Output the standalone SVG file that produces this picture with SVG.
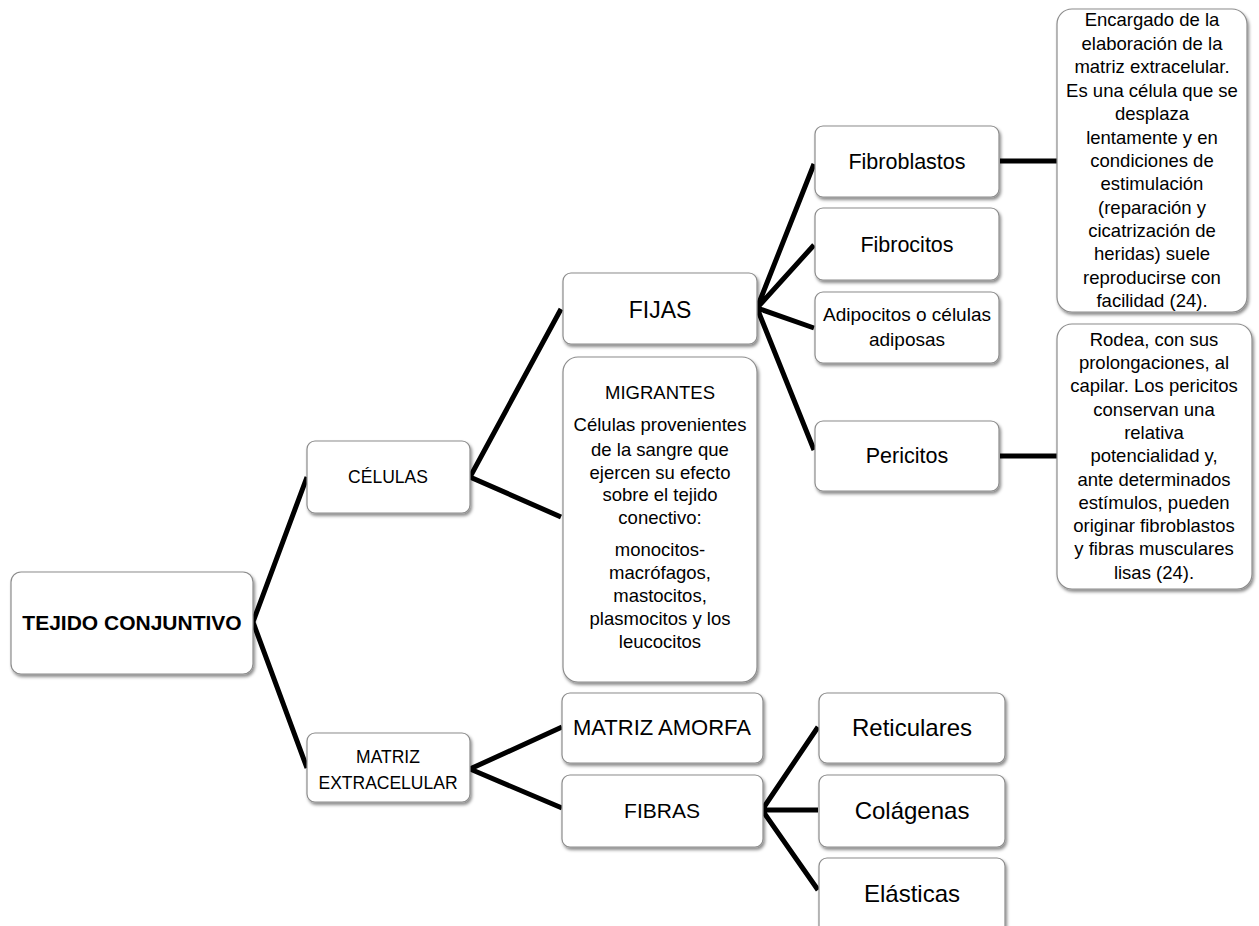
<svg xmlns="http://www.w3.org/2000/svg" width="1259" height="926" viewBox="0 0 1259 926">
<style>
.box{fill:#fff;stroke:#8c8c8c;stroke-width:1.2;filter:url(#sh)}
.t{font-family:"Liberation Sans",Arial,sans-serif;fill:#000;text-anchor:middle}
.c{fill:none;stroke:#000;stroke-width:5;stroke-linejoin:miter}
</style>
<defs>
<filter id="sh" x="-10%" y="-10%" width="130%" height="130%">
<feDropShadow dx="1.5" dy="2.5" stdDeviation="1.8" flood-color="#000" flood-opacity="0.45"/>
</filter>
</defs>
<rect width="1259" height="926" fill="#fff"/>
<g id="connectors">
<path class="c" d="M307,477 L253,622 L307,768"/>
<path class="c" d="M561,309 L470,477 L561,517"/>
<path class="c" d="M562,727 L470,769 L562,808"/>
<path class="c" d="M814,164 L757,308 L814,245 M757,308 L814,328 M757,308 L814,450"/>
<path class="c" d="M1000,161 L1057,161 M1000,456 L1057,456"/>
<path class="c" d="M818,727 L762,810 L818,890 M762,810 L818,810"/>
</g>
<g id="tejido">
<rect class="box" x="11" y="572" width="242" height="102" rx="10"/>
<text class="t" x="132" y="630" font-size="21" font-weight="bold">TEJIDO CONJUNTIVO</text>
</g>
<g id="celulas">
<rect class="box" x="307" y="441" width="163" height="72" rx="8"/>
<text class="t" x="388" y="483" font-size="17.5">CÉLULAS</text>
</g>
<g id="matriz-extracelular">
<rect class="box" x="307" y="733" width="163" height="69" rx="8"/>
<text class="t" x="388" y="763" font-size="17.5">MATRIZ</text>
<text class="t" x="388" y="789" font-size="17.5">EXTRACELULAR</text>
</g>
<g id="fijas">
<rect class="box" x="563" y="273" width="194" height="71" rx="8"/>
<text class="t" x="660" y="318" font-size="23">FIJAS</text>
</g>
<g id="migrantes">
<rect class="box" x="563" y="357" width="194" height="325" rx="15"/>
<g class="t" font-size="18.5">
<text x="660" y="399">MIGRANTES</text>
<text x="660" y="431">Células provenientes</text>
<text x="660" y="456">de la sangre que</text>
<text x="660" y="479">ejercen su efecto</text>
<text x="660" y="501">sobre el tejido</text>
<text x="660" y="524">conectivo:</text>
<text x="660" y="556">monocitos-</text>
<text x="660" y="579">macrófagos,</text>
<text x="660" y="602">mastocitos,</text>
<text x="660" y="625">plasmocitos y los</text>
<text x="660" y="648">leucocitos</text>
</g>
</g>
<g id="fibroblastos">
<rect class="box" x="815" y="126" width="184" height="71" rx="8"/>
<text class="t" x="907" y="169" font-size="21.5">Fibroblastos</text>
</g>
<g id="fibrocitos">
<rect class="box" x="815" y="208" width="184" height="72" rx="8"/>
<text class="t" x="907" y="252" font-size="21.5">Fibrocitos</text>
</g>
<g id="adipocitos">
<rect class="box" x="815" y="292" width="184" height="71" rx="8"/>
<text class="t" x="907" y="321" font-size="19">Adipocitos o células</text>
<text class="t" x="907" y="346" font-size="19">adiposas</text>
</g>
<g id="pericitos">
<rect class="box" x="815" y="421" width="184" height="70" rx="8"/>
<text class="t" x="907" y="463" font-size="21.5">Pericitos</text>
</g>
<g id="desc-fibroblastos">
<rect class="box" x="1057" y="9" width="190" height="303" rx="15"/>
<g class="t" font-size="18.5">
<text x="1152" y="26">Encargado de la</text>
<text x="1152" y="50">elaboración de la</text>
<text x="1152" y="73">matriz extracelular.</text>
<text x="1152" y="97">Es una célula que se</text>
<text x="1152" y="120">desplaza</text>
<text x="1152" y="144">lentamente y en</text>
<text x="1152" y="167">condiciones de</text>
<text x="1152" y="190">estimulación</text>
<text x="1152" y="214">(reparación y</text>
<text x="1152" y="237">cicatrización de</text>
<text x="1152" y="260">heridas) suele</text>
<text x="1152" y="284">reproducirse con</text>
<text x="1152" y="307">facilidad (24).</text>
</g>
</g>
<g id="desc-pericitos">
<rect class="box" x="1057" y="324" width="195" height="265" rx="15"/>
<g class="t" font-size="18.5">
<text x="1154" y="346">Rodea, con sus</text>
<text x="1154" y="369">prolongaciones, al</text>
<text x="1154" y="392">capilar. Los pericitos</text>
<text x="1154" y="416">conservan una</text>
<text x="1154" y="439">relativa</text>
<text x="1154" y="462">potencialidad y,</text>
<text x="1154" y="486">ante determinados</text>
<text x="1154" y="509">estímulos, pueden</text>
<text x="1154" y="532">originar fibroblastos</text>
<text x="1154" y="555">y fibras musculares</text>
<text x="1154" y="579">lisas (24).</text>
</g>
</g>
<g id="matriz-amorfa">
<rect class="box" x="562" y="693" width="201" height="70" rx="8"/>
<text class="t" x="662" y="735" font-size="22">MATRIZ AMORFA</text>
</g>
<g id="fibras">
<rect class="box" x="562" y="775" width="201" height="72" rx="8"/>
<text class="t" x="662" y="818" font-size="21">FIBRAS</text>
</g>
<g id="reticulares">
<rect class="box" x="819" y="693" width="186" height="70" rx="8"/>
<text class="t" x="912" y="736" font-size="24">Reticulares</text>
</g>
<g id="colagenas">
<rect class="box" x="819" y="775" width="186" height="72" rx="8"/>
<text class="t" x="912" y="819" font-size="24">Colágenas</text>
</g>
<g id="elasticas">
<rect class="box" x="819" y="858" width="186" height="90" rx="8"/>
<text class="t" x="912" y="902" font-size="24">Elásticas</text>
</g>
</svg>
